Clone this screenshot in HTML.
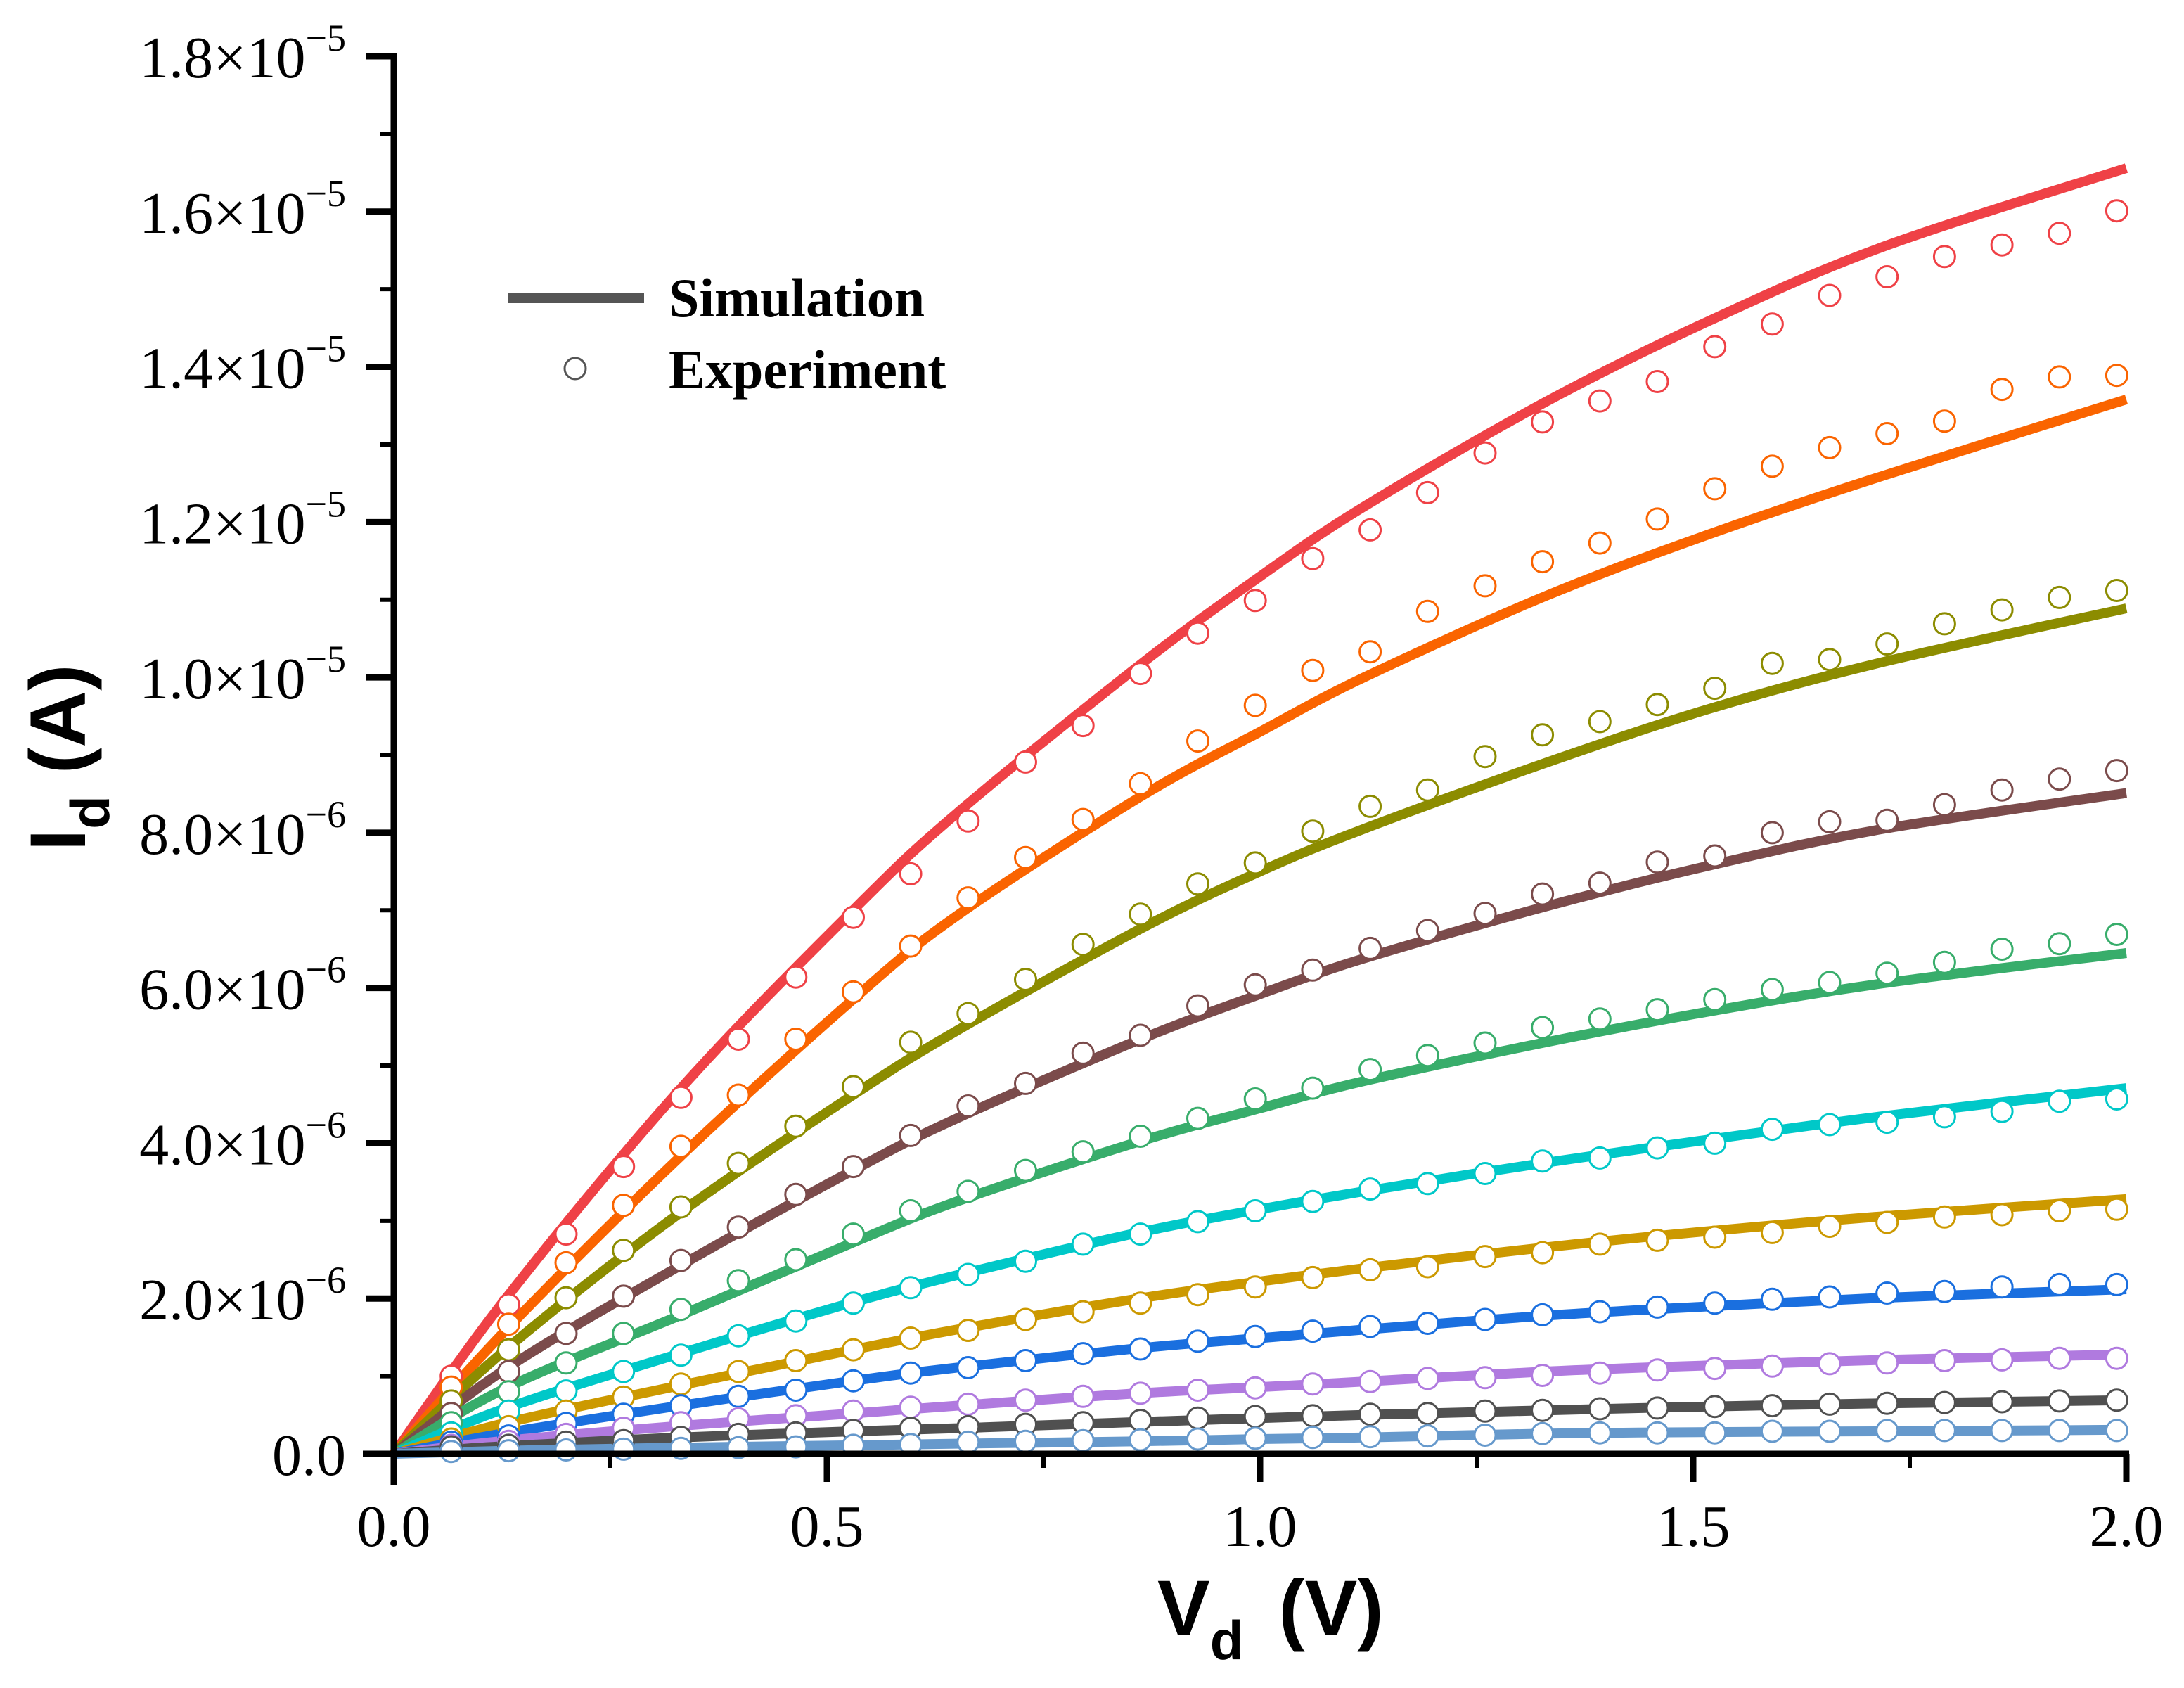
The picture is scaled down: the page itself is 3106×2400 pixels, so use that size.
<!DOCTYPE html>
<html><head><meta charset="utf-8"><style>
html,body{margin:0;padding:0;background:#fff;}
svg{display:block;}
</style></head><body>
<svg id="chart" xmlns="http://www.w3.org/2000/svg" width="3106" height="2400" viewBox="0 0 3106 2400">
<rect x="0" y="0" width="3106" height="2400" fill="#fff"/>
<g id="plot"></g>
<g id="axes"></g>
<g>
  <line x1="722" y1="424" x2="916" y2="424" stroke="#555" stroke-width="14"/>
  <text x="951" y="450" font-family="Liberation Serif, serif" font-weight="bold" font-size="78" fill="#000">Simulation</text>
  <circle cx="818" cy="524" r="15" fill="#fff" stroke="#555" stroke-width="3"/>
  <text x="951" y="552" font-family="Liberation Serif, serif" font-weight="bold" font-size="78" fill="#000">Experiment</text>
</g>
<text x="1646" y="2325" font-family="Liberation Sans, sans-serif" font-weight="bold" font-size="112" fill="#000">V<tspan font-size="78" dy="34">d</tspan><tspan dy="-34" dx="50">(V)</tspan></text>
<text transform="translate(121,1210) rotate(-90)" x="0" y="0" font-family="Liberation Sans, sans-serif" font-weight="bold" font-size="112" fill="#000">I<tspan font-size="78" dy="34">d</tspan><tspan dy="-34"> (A)</tspan></text>
</svg>
<script>
// ---- data ----
const simX = [0, 0.13, 0.33, 0.53, 0.65, 0.86, 1.0, 1.12, 1.33, 1.52, 1.72, 2.0];
const simRed    = [0, 2.01, 4.69, 7.0, 8.25, 10.15, 11.3, 12.2, 13.55, 14.6, 15.55, 16.56];
const simOrange = [0, 1.6, 3.82, 5.85, 6.93, 8.45, 9.3, 10.0, 11.05, 11.85, 12.6, 13.58];
const simOlive  = [0, 1.35, 3.1, 4.62, 5.45, 6.75, 7.5, 8.05, 8.9, 9.6, 10.2, 10.89];
const simBrown  = [0, 1.1, 2.42, 3.65, 4.32, 5.33, 5.92, 6.38, 7.05, 7.58, 8.05, 8.51];
const simGreen  = [0, 0.85, 1.78, 2.72, 3.25, 4.02, 4.45, 4.8, 5.3, 5.7, 6.06, 6.45];
const simCyan   = [0, 0.59, 1.29, 1.95, 2.3, 2.85, 3.15, 3.38, 3.75, 4.05, 4.35, 4.71];
const simGold   = [0, 0.40, 0.88, 1.34, 1.6, 2.0, 2.22, 2.39, 2.66, 2.87, 3.06, 3.28];
const simBlue   = [0, 0.27, 0.62, 0.94, 1.11, 1.36, 1.49, 1.60, 1.78, 1.90, 2.01, 2.12];
const simPurple = [0, 0.17, 0.36, 0.52, 0.62, 0.78, 0.86, 0.93, 1.06, 1.14, 1.21, 1.28];
const simDark   = [0, 0.10, 0.21, 0.29, 0.33, 0.41, 0.46, 0.50, 0.56, 0.61, 0.65, 0.69];
const simLight  = [0, 0.04, 0.08, 0.11, 0.13, 0.16, 0.19, 0.21, 0.26, 0.28, 0.29, 0.31];

const expX = [0.0663,0.1326,0.1989,0.2652,0.3315,0.3978,0.4641,0.5304,0.5967,0.663,0.7293,0.7956,0.8619,0.9282,0.9945,1.0608,1.1271,1.1934,1.2597,1.326,1.3923,1.4586,1.5249,1.5912,1.6575,1.7238,1.7901,1.8564,1.9227,1.989];
const expRed    = [1.00,1.92,2.83,3.70,4.59,5.34,6.14,6.91,7.47,8.15,8.91,9.38,10.05,10.57,10.99,11.53,11.90,12.38,12.89,13.29,13.56,13.81,14.26,14.55,14.92,15.16,15.42,15.57,15.72,16.01];
const expOrange = [0.86,1.67,2.46,3.20,3.96,4.62,5.34,5.95,6.54,7.16,7.68,8.17,8.63,9.18,9.64,10.09,10.33,10.85,11.18,11.49,11.73,12.04,12.43,12.72,12.96,13.14,13.30,13.71,13.87,13.89];
const expOlive  = [0.68,1.34,2.01,2.62,3.18,3.74,4.22,4.73,5.30,5.67,6.11,6.56,6.95,7.34,7.61,8.02,8.34,8.55,8.98,9.26,9.43,9.65,9.86,10.18,10.23,10.43,10.69,10.87,11.03,11.12];
const expBrown  = [0.52,1.06,1.55,2.03,2.49,2.92,3.34,3.70,4.10,4.48,4.77,5.16,5.39,5.77,6.04,6.23,6.51,6.74,6.96,7.21,7.35,7.62,7.70,8.00,8.14,8.16,8.36,8.55,8.69,8.80];
const expGreen  = [0.40,0.80,1.17,1.55,1.86,2.23,2.50,2.83,3.13,3.38,3.65,3.89,4.09,4.32,4.57,4.71,4.95,5.13,5.29,5.49,5.60,5.72,5.85,5.98,6.07,6.19,6.33,6.50,6.57,6.69];
const expCyan   = [0.27,0.55,0.81,1.06,1.27,1.52,1.71,1.94,2.14,2.31,2.48,2.70,2.83,2.99,3.13,3.25,3.41,3.48,3.61,3.77,3.81,3.94,4.00,4.18,4.24,4.27,4.34,4.41,4.54,4.57];
const expGold   = [0.19,0.35,0.55,0.73,0.90,1.06,1.20,1.34,1.49,1.59,1.73,1.83,1.94,2.05,2.15,2.27,2.37,2.41,2.54,2.59,2.70,2.75,2.79,2.85,2.93,2.98,3.05,3.08,3.13,3.15];
const expBlue   = [0.15,0.23,0.39,0.51,0.62,0.74,0.82,0.94,1.04,1.11,1.20,1.29,1.35,1.45,1.51,1.58,1.64,1.68,1.73,1.79,1.83,1.89,1.94,1.99,2.02,2.07,2.09,2.15,2.18,2.18];
const expPurple = [0.11,0.16,0.25,0.33,0.40,0.45,0.49,0.55,0.60,0.64,0.69,0.74,0.78,0.82,0.85,0.90,0.93,0.97,0.98,1.01,1.04,1.08,1.10,1.13,1.16,1.17,1.20,1.21,1.23,1.23];
const expDark   = [0.09,0.11,0.15,0.17,0.21,0.25,0.27,0.30,0.33,0.35,0.38,0.40,0.43,0.46,0.48,0.49,0.51,0.52,0.55,0.56,0.58,0.59,0.61,0.62,0.64,0.65,0.66,0.67,0.68,0.69];
const expLight  = [0.03,0.04,0.05,0.06,0.07,0.08,0.09,0.11,0.12,0.15,0.16,0.17,0.18,0.19,0.20,0.21,0.22,0.23,0.24,0.26,0.27,0.27,0.27,0.29,0.29,0.30,0.30,0.30,0.30,0.30];

const seriesNames = ["red","orange","olive","brown","green","cyan","gold","blue","purple","dark","light"];
const seriesColors = ["#EF4146","#FA6400","#8C8C00","#7B4B4B","#38AD6B","#00C8C8","#CC9900","#1A6FDF","#B07ADF","#505050","#6699CC"];
const simSeries = [simRed,simOrange,simOlive,simBrown,simGreen,simCyan,simGold,simBlue,simPurple,simDark,simLight];
const expSeries = [expRed,expOrange,expOlive,expBrown,expGreen,expCyan,expGold,expBlue,expPurple,expDark,expLight];

const xTicks = [0, 0.5, 1.0, 1.5, 2.0];
const xTickLabels = ["0.0","0.5","1.0","1.5","2.0"];
const yTicks = [0,2,4,6,8,10,12,14,16,18]; // units of 1e-6 A
const yMant = ["0.0","2.0","4.0","6.0","8.0","1.0","1.2","1.4","1.6","1.8"];
const yExp  = ["","\u22126","\u22126","\u22126","\u22126","\u22125","\u22125","\u22125","\u22125","\u22125"];

// ---- scales ----
const X0 = 560, X1 = 3024, Y0 = 2067, Y1 = 80;
function sx(v){ return X0 + (v/2.0)*(X1-X0); }
function sy(v){ return Y0 - (v/18)*(Y0-Y1); }

const NS = "http://www.w3.org/2000/svg";
const plot = document.getElementById('plot');
const axes = document.getElementById('axes');
function mk(tag, attrs, parent){
  const e = document.createElementNS(NS, tag);
  for (const k in attrs) e.setAttribute(k, attrs[k]);
  parent.appendChild(e);
  return e;
}
function smoothPath(pts){
  let d = "M" + pts[0][0].toFixed(1) + "," + pts[0][1].toFixed(1);
  for (let i=0;i<pts.length-1;i++){
    const p0 = pts[Math.max(0,i-1)], p1 = pts[i], p2 = pts[i+1], p3 = pts[Math.min(pts.length-1,i+2)];
    const c1x = p1[0] + (p2[0]-p0[0])/6, c1y = p1[1] + (p2[1]-p0[1])/6;
    const c2x = p2[0] - (p3[0]-p1[0])/6, c2y = p2[1] - (p3[1]-p1[1])/6;
    d += " C" + c1x.toFixed(1)+","+c1y.toFixed(1)+" "+c2x.toFixed(1)+","+c2y.toFixed(1)+" "+p2[0].toFixed(1)+","+p2[1].toFixed(1);
  }
  return d;
}

// simulation lines
for (let s=0;s<simSeries.length;s++){
  const pts = simX.map((x,i)=>[sx(x), sy(simSeries[s][i])]);
  const p = mk('path', {d: smoothPath(pts), fill:'none', stroke: seriesColors[s], 'stroke-width': 14, 'stroke-linejoin':'round'}, plot);
  
  
}
// experiment markers
for (let s=0;s<expSeries.length;s++){
  const g = mk('g', {}, plot);
  
  
  for (let i=0;i<expX.length;i++){
    const c = mk('circle', {cx: sx(expX[i]).toFixed(1), cy: sy(expSeries[s][i]).toFixed(1), r: 15, fill:'#fff', stroke: seriesColors[s], 'stroke-width': 3}, g);
    
    
  }
}

// axes lines
const yAxis = mk('line', {x1:X0, y1:Y1-4, x2:X0, y2:Y0+44, stroke:'#000', 'stroke-width':9}, axes);


const xAxis = mk('line', {x1:X0-44, y1:Y0, x2:X1+4, y2:Y0, stroke:'#000', 'stroke-width':9}, axes);



// x ticks
for (let i=0;i<xTicks.length;i++){
  const x = sx(xTicks[i]);
  const t = mk('line', {x1:x, y1:Y0, x2:x, y2:Y0+40, stroke:'#000', 'stroke-width':9}, axes);
  
  
  const lb = mk('text', {x:x, y:2198, 'text-anchor':'middle', 'font-family':'Liberation Serif, serif', 'font-size':84, fill:'#000'}, axes);
  lb.textContent = xTickLabels[i];
  
  
  if (i < xTicks.length-1){
    const xm = sx(xTicks[i]+0.25);
    const m = mk('line', {x1:xm, y1:Y0, x2:xm, y2:Y0+20, stroke:'#000', 'stroke-width':6}, axes);
    
    
  }
}
// y ticks
for (let i=0;i<yTicks.length;i++){
  const y = sy(yTicks[i]);
  const t = mk('line', {x1:X0-40, y1:y, x2:X0, y2:y, stroke:'#000', 'stroke-width':9}, axes);
  
  
  const lb = mk('text', {x:492, y:(y+30).toFixed(1), 'text-anchor':'end', 'font-family':'Liberation Serif, serif', 'font-size':84, fill:'#000'}, axes);
  
  
  if (yExp[i] === ""){
    lb.textContent = yMant[i];
  } else {
    const t1 = document.createElementNS(NS,'tspan'); t1.textContent = yMant[i] + "\u00d710"; lb.appendChild(t1);
    const t2 = document.createElementNS(NS,'tspan'); t2.setAttribute('font-size','54'); t2.setAttribute('dy','-38'); t2.textContent = yExp[i]; lb.appendChild(t2);
  }
  if (i < yTicks.length-1){
    const ym = sy(yTicks[i]+1);
    const m = mk('line', {x1:X0-20, y1:ym, x2:X0, y2:ym, stroke:'#000', 'stroke-width':6}, axes);
    
    
  }
}
</script>
</body></html>
